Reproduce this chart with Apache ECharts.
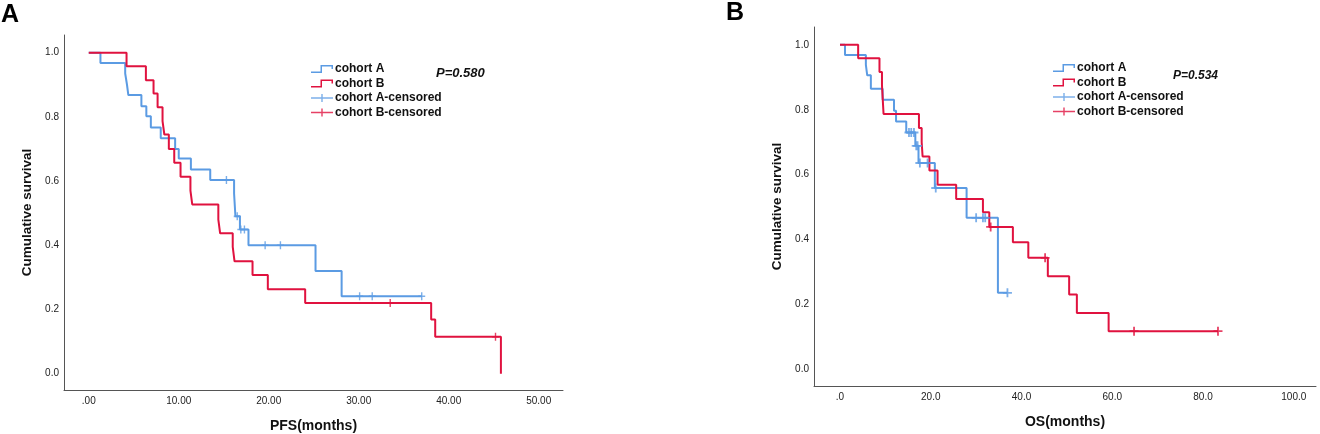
<!DOCTYPE html>
<html>
<head>
<meta charset="utf-8">
<script src="https://cdn.jsdelivr.net/npm/echarts@6/dist/echarts.min.js"></script>
<style>
  html, body { margin: 0; padding: 0; background: #fff; }
  #main { width: 1320px; height: 434px; }
</style>
</head>
<body>
<div id="main"></div>
<script>
// PFS (panel A) - step points: time, survival after the event
var pfsTimeA = [0, 1.3, 4.05, 4.25, 4.4, 5.85, 6.4, 6.9, 8.0, 9.6, 10.0, 11.35, 13.5, 16.15, 16.3, 16.8, 17.75, 25.2, 28.1, 37.0];
var pfsSurvA = [1.0, 0.968, 0.935, 0.90, 0.868, 0.833, 0.802, 0.767, 0.733, 0.70, 0.67, 0.636, 0.603, 0.561, 0.49, 0.449, 0.40, 0.32, 0.241, 0.241];
var pfsCensTimeA = [15.3, 16.5, 16.9, 17.3, 19.6, 21.3, 30.1, 31.5, 37.0];
var pfsCensSurvA = [0.603, 0.49, 0.449, 0.449, 0.40, 0.40, 0.241, 0.241, 0.241];

var pfsTimeB = [0, 4.2, 6.35, 7.2, 7.65, 8.2, 8.4, 8.9, 9.5, 10.2, 11.3, 11.5, 14.4, 14.6, 16.0, 16.2, 18.2, 19.9, 24.05, 38.05, 38.5, 45.8];
var pfsSurvB = [1.0, 0.958, 0.914, 0.873, 0.83, 0.787, 0.745, 0.70, 0.657, 0.613, 0.57, 0.527, 0.48, 0.437, 0.395, 0.35, 0.307, 0.263, 0.22, 0.169, 0.115, 0.0];
var pfsCensTimeB = [33.5, 45.2];
var pfsCensSurvB = [0.22, 0.115];

// OS (panel B)
var osTimeA = [0, 1.1, 5.7, 6.0, 6.8, 9.4, 11.9, 12.35, 14.6, 16.6, 17.3, 20.9, 27.9, 34.8, 36.9];
var osSurvA = [1.0, 0.969, 0.938, 0.906, 0.865, 0.831, 0.797, 0.764, 0.73, 0.689, 0.636, 0.559, 0.467, 0.236, 0.236];
var osCensTimeA = [15.2, 15.7, 16.3, 16.8, 17.1, 17.6, 19.3, 21.1, 30.0, 31.5, 32.0, 36.9];
var osCensSurvA = [0.73, 0.73, 0.73, 0.689, 0.689, 0.636, 0.636, 0.559, 0.467, 0.467, 0.467, 0.236];

var osTimeB = [0, 4.0, 8.7, 9.25, 9.6, 17.4, 18.0, 18.2, 19.7, 21.5, 25.6, 31.5, 32.9, 38.1, 41.5, 45.8, 50.5, 52.2, 59.2, 83.3];
var osSurvB = [1.0, 0.959, 0.916, 0.875, 0.787, 0.744, 0.70, 0.656, 0.613, 0.569, 0.525, 0.484, 0.439, 0.392, 0.344, 0.287, 0.231, 0.174, 0.118, 0.118];
var osCensTimeB = [33.2, 45.2, 64.8, 83.3];
var osCensSurvB = [0.439, 0.344, 0.118, 0.118];

var pfsTicks = [0, 10, 20, 30, 40, 50];
var osTicks = [0, 20, 40, 60, 80, 100];
var survTicks = [0, 0.2, 0.4, 0.6, 0.8, 1.0];

var BLUE = '#5b9be3';
var RED = '#e0123f';
var FONT = 'Liberation Sans, Arial, sans-serif';

var stepIcon = 'path://M0,6.5 H9.5 V0 H22 V4 H20.5 V1.5 H11 V8 H0 Z';
var plusIcon = 'path://M0,3.3 H10.3 V0 H11.7 V3.3 H22 V4.7 H11.7 V8 H10.3 V4.7 H0 Z';
var censorMark = 'path://M4,0 H6 V4 H10 V6 H6 V10 H4 V6 H0 V4 H4 Z';

function pairs(xs, ys) {
    var out = [];
    for (let i = 0; i < xs.length; i++) out.push([xs[i], ys[i]]);
    return out;
}

// SPSS style labels: .00 / 10.00 and .0 / 20.0
function spssLabel(digits) {
    return function (v) {
        var s = v.toFixed(digits);
        return s.indexOf('0.') === 0 ? s.slice(1) : s;
    };
}

function xAxisFor(idx, min, max, ticks, digits, name) {
    return {
        type: 'value', gridIndex: idx, min: min, max: max,
        name: name, nameLocation: 'middle', nameGap: 29,
        nameTextStyle: {fontFamily: FONT, fontWeight: 'bold', fontSize: 14, color: '#111'},
        axisLine: {show: true, onZero: false, lineStyle: {color: '#555', width: 1}},
        axisTick: {show: false},
        splitLine: {show: false},
        axisLabel: {customValues: ticks, formatter: spssLabel(digits), margin: 6,
            fontFamily: FONT, fontSize: 10, color: '#222'}
    };
}

function yAxisFor(idx) {
    return {
        type: 'value', gridIndex: idx, min: -0.051, max: 1.055,
        name: 'Cumulative survival', nameLocation: 'middle', nameGap: 30, nameRotate: 90,
        nameTextStyle: {fontFamily: FONT, fontWeight: 'bold', fontSize: 13.5, color: '#111'},
        axisLine: {show: true, onZero: false, lineStyle: {color: '#555', width: 1}},
        axisTick: {show: false},
        splitLine: {show: false},
        axisLabel: {customValues: survTicks, formatter: function (v) { return v.toFixed(1); }, margin: 5,
            fontFamily: FONT, fontSize: 10, color: '#222'}
    };
}

function curve(name, idx, xs, ys, color) {
    return {
        name: name, type: 'line', step: 'end', xAxisIndex: idx, yAxisIndex: idx,
        data: pairs(xs, ys), color: color, showSymbol: false, symbol: 'none',
        lineStyle: {color: color, width: 2}, animation: false, z: 3
    };
}

function censors(name, idx, xs, ys, color, size) {
    return {
        name: name, type: 'scatter', xAxisIndex: idx, yAxisIndex: idx,
        data: pairs(xs, ys), color: color, symbol: censorMark, symbolSize: size,
        itemStyle: {color: color}, animation: false, z: 4
    };
}

function legendAt(left, top) {
    return {
        orient: 'vertical', left: left, top: top, padding: 0,
        itemWidth: 22, itemHeight: 8, itemGap: 2.5,
        selectedMode: false,
        textStyle: {fontFamily: FONT, fontWeight: 'bold', fontSize: 12, color: '#111', padding: [0, 0, 0, -3]},
        data: [
            {name: 'cohort A', icon: stepIcon},
            {name: 'cohort B', icon: stepIcon},
            {name: 'cohort A-censored', icon: plusIcon},
            {name: 'cohort B-censored', icon: plusIcon}
        ]
    };
}

var myChart = echarts.init(document.getElementById('main'));
var option = {
    backgroundColor: '#fff',
    animation: false,
    grid: [
        {left: 64, top: 35, width: 499, height: 355, outerBoundsMode: 'none', containLabel: false},
        {left: 814, top: 27, width: 502, height: 359, outerBoundsMode: 'none', containLabel: false}
    ],
    xAxis: [
        xAxisFor(0, -2.75, 52.7, pfsTicks, 2, 'PFS(months)'),
        xAxisFor(1, -5.73, 104.9, osTicks, 1, 'OS(months)')
    ],
    yAxis: [yAxisFor(0), yAxisFor(1)],
    legend: [legendAt(311, 63), legendAt(1053, 62)],
    graphic: [
        {type: 'text', left: 1, top: 3, style: {text: 'A', fontFamily: FONT, fontWeight: 'bold', fontSize: 25, fill: '#000'}},
        {type: 'text', left: 726, top: 1, style: {text: 'B', fontFamily: FONT, fontWeight: 'bold', fontSize: 25, fill: '#000'}},
        {type: 'text', left: 436, top: 67, style: {text: 'P=0.580', fontFamily: FONT, fontWeight: 'bold', fontStyle: 'italic', fontSize: 13, fill: '#111'}},
        {type: 'text', left: 1173, top: 70, style: {text: 'P=0.534', fontFamily: FONT, fontWeight: 'bold', fontStyle: 'italic', fontSize: 12, fill: '#111'}}
    ],
    series: [
        curve('cohort A', 0, pfsTimeA, pfsSurvA, BLUE),
        curve('cohort B', 0, pfsTimeB, pfsSurvB, RED),
        censors('cohort A-censored', 0, pfsCensTimeA, pfsCensSurvA, BLUE, [7, 8]),
        censors('cohort B-censored', 0, pfsCensTimeB, pfsCensSurvB, RED, [7, 8]),
        curve('cohort A', 1, osTimeA, osSurvA, BLUE),
        curve('cohort B', 1, osTimeB, osSurvB, RED),
        censors('cohort A-censored', 1, osCensTimeA, osCensSurvA, BLUE, [9, 9]),
        censors('cohort B-censored', 1, osCensTimeB, osCensSurvB, RED, [9, 9])
    ]
};
myChart.setOption(option);
</script>
</body>
</html>
